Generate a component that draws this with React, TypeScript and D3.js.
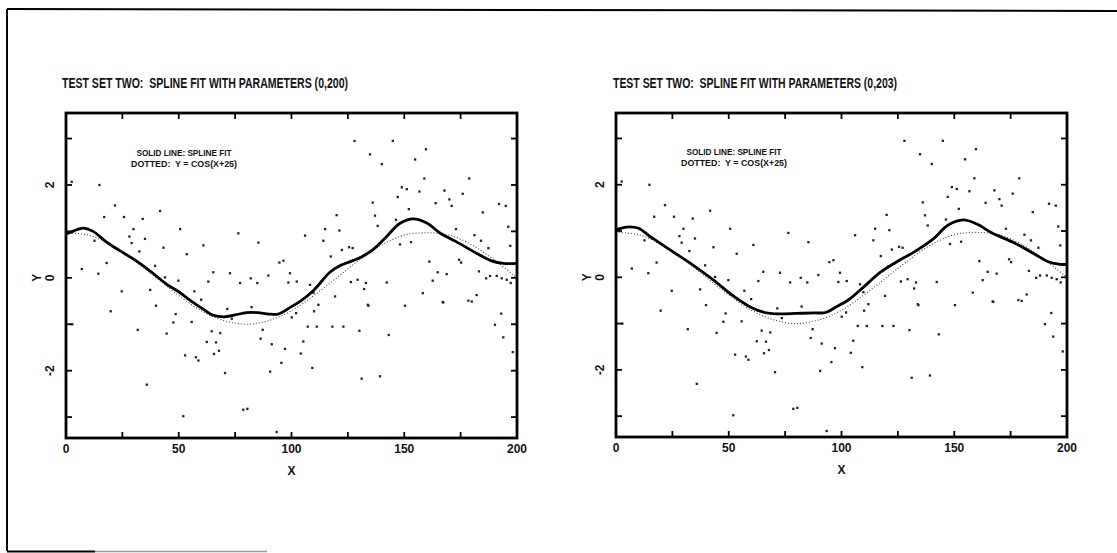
import React from "react";
import * as d3 from "d3";

const W = 1117;
const H = 553;

const titles = [
  "TEST SET TWO:  SPLINE FIT WITH PARAMETERS (0,200)",
  "TEST SET TWO:  SPLINE FIT WITH PARAMETERS (0,203)",
];
const legendLines = ["SOLID LINE: SPLINE FIT", "DOTTED:  Y = COS(X+25)"];
const xTickLabels = [0, 50, 100, 150, 200];
const xTicks = [0, 25, 50, 75, 100, 125, 150, 175, 200];
const yTickLabels = [-2, 0, 2];
const yTicks = [-3, -2, -1, 0, 1, 2, 3];

// true curve (dotted)
const trueCurve: [number, number][] = [
  [0, 0.97], [10, 0.92], [20, 0.71], [30, 0.38], [40, 0.0], [50, -0.38],
  [60, -0.71], [70, -0.92], [80, -1.0], [90, -0.92], [100, -0.71], [110, -0.38],
  [120, 0.0], [130, 0.38], [140, 0.71], [150, 0.92], [160, 0.97], [170, 0.92],
  [180, 0.71], [190, 0.38], [200, 0.0],
];

const splineA: [number, number][] = [
  [0, 0.95], [2, 0.98], [5, 1.04], [8, 1.07], [12, 1.0], [18, 0.77], [24, 0.58],
  [31, 0.37], [38, 0.12], [45, -0.15], [50, -0.3], [56, -0.52], [61, -0.68],
  [65, -0.8], [70, -0.84], [75, -0.8], [80, -0.75], [85, -0.75], [90, -0.78],
  [94, -0.78], [100, -0.62], [104, -0.5], [110, -0.26], [117, 0.12], [121, 0.25],
  [125, 0.33], [131, 0.45], [136, 0.6], [142, 0.88], [148, 1.17], [154, 1.27],
  [160, 1.18], [166, 0.96], [173, 0.78], [182, 0.53], [189, 0.36], [194, 0.31],
  [200, 0.31],
];

const splineB: [number, number][] = [
  [0, 1.03], [3, 1.07], [6, 1.09], [10, 1.06], [16, 0.85], [25, 0.56], [34, 0.27],
  [43, -0.05], [52, -0.4], [60, -0.65], [66, -0.76], [72, -0.79], [80, -0.78],
  [88, -0.77], [93, -0.76], [98, -0.63], [103, -0.49], [110, -0.2], [117, 0.1],
  [124, 0.32], [133, 0.57], [141, 0.84], [147, 1.12], [154, 1.24], [160, 1.15],
  [167, 0.95], [176, 0.76], [185, 0.52], [192, 0.33], [197, 0.28], [200, 0.28],
];

const points: [number, number][] = [
  [2.5, 2.07], [14.8, 2.0], [21.7, 1.56], [16.9, 1.31], [25.7, 1.31], [34, 1.27],
  [41.7, 1.44], [50.6, 1.05], [29.9, 1.05], [28.1, 0.89], [35, 0.84], [29.1, 0.75],
  [12.6, 0.8], [18, 0.32], [7, 0.19], [14.3, 0.09], [24.7, -0.29], [32.5, 0.57],
  [39.5, 0.26], [43.2, 0.65], [37.3, -0.26], [39.9, -0.6], [43.9, 0.01], [49.8, -0.06],
  [53.5, 0.51], [60.9, 0.7], [56.9, -0.29], [59.9, -0.47], [63.1, -0.08], [65.3, 0.12],
  [72.7, 0.1], [77.2, -0.11], [81.9, -0.01], [84.8, -0.11], [89.7, 0.05], [76.4, 0.96],
  [85.3, 0.76], [94.6, 0.33], [96.4, 0.37], [99.3, 0.1], [98.6, -0.1], [102.3, -0.08],
  [106, 0.91], [114.1, 0.8], [114.9, 1.05], [120, 1.35], [117.4, 0.46], [120.8, 0.24],
  [111.9, -0.58], [109.7, -0.32], [108.2, -0.15],
  [2.8, -1.0], [19.8, -0.72], [31.8, -1.12], [44.6, -1.2], [47.6, -0.96], [48.6, -0.78],
  [55.7, -0.95], [52.8, -1.67], [57.6, -1.71], [58.7, -1.78], [62.4, -1.38], [64.6, -1.15],
  [66.5, -1.39], [65.6, -1.64], [67.8, -1.57], [68.4, -1.19], [70.5, -2.05], [71.5, -0.67],
  [73.5, -0.88], [82.3, -0.63], [86.3, -1.31], [87.2, -1.12], [91.2, -1.43], [90.5, -2.02],
  [95.5, -1.83], [97.1, -1.53], [100.1, -0.85], [102, -0.76], [104.1, -1.63], [105.2, -1.37],
  [107.2, -1.05], [109.2, -1.94], [110, -0.72], [111.2, -1.05], [118.1, -1.05], [35.8, -2.3],
  [52, -2.98], [78.6, -2.84], [80.4, -2.82], [93.4, -3.32],
  [123, -1.05], [130.1, -1.14], [143.1, -1.23], [139.2, -2.12], [131.1, -2.17], [134.1, -0.6],
  [150.3, -0.6], [167.3, -0.53], [178.4, -0.49], [179.9, -0.51], [193, -0.77], [190.2, -1.01],
  [193.9, -1.28], [198.1, -1.6],
  [127.9, 2.95], [144.9, 2.95], [159.6, 2.77], [134.8, 2.66], [154.8, 2.55], [140, 2.45],
  [158.9, 2.14], [178.8, 2.14], [148.9, 1.95], [151.1, 1.91], [156.7, 1.86], [147.1, 1.74],
  [167.8, 1.88], [175.9, 1.81], [170, 1.69], [171, 1.55], [163.9, 1.61], [136, 1.62],
  [152, 1.48], [137, 1.34], [184.8, 1.41], [192, 1.59], [195, 1.55], [138.2, 1.12],
  [146.3, 1.25], [121.2, 1.02], [172.9, 1.05], [196.1, 1.1], [181.1, 0.92], [184, 0.8],
  [197, 0.69], [187.3, 0.64], [148.1, 0.72], [153, 0.77], [122.3, 0.6], [125.5, 0.66],
  [127.1, 0.64], [174.3, 0.39], [175.2, 0.33], [161.1, 0.35], [164.8, 0.12], [168.8, 0.08],
  [162.6, -0.06], [183.1, 0.14], [186.3, -0.01], [188, 0.04], [191, 0.04], [193.2, -0.01],
  [195.4, -0.04], [197.2, -0.11], [126.3, -0.09], [129.3, -0.04], [133, -0.11], [132.2, -0.24],
  [142.2, -0.1], [119.3, -0.4], [133.8, -0.58], [158.2, -0.33], [167, -0.52], [182.1, -0.37],
];

const FONT = "'Liberation Sans', Arial, sans-serif";

type PanelProps = {
  left: number;
  right: number;
  top: number;
  bottom: number;
  title: string;
  titleX: number;
  titleW: number;
  legendX: number;
  legendY: number;
  spline: [number, number][];
};

function Panel(p: PanelProps) {
  const x = d3.scaleLinear().domain([0, 200]).range([p.left, p.right]);
  const y = d3.scaleLinear().domain([-3.45, 3.55]).range([p.bottom, p.top]);
  const line = d3
    .line<[number, number]>()
    .x((d) => x(d[0]))
    .y((d) => y(d[1]))
    .curve(d3.curveCatmullRom.alpha(0.5));
  const tl = 6;
  return (
    <g>
      <text
        x={p.titleX}
        y={88}
        fontFamily={FONT}
        fontWeight="bold"
        fontSize={14}
        textLength={p.titleW}
        lengthAdjust="spacingAndGlyphs"
        fill="#111"
        style={{ whiteSpace: "pre" }}
      >
        {p.title}
      </text>
      {/* points */}
      {points.map((d, i) => (
        <rect
          key={i}
          x={x(d[0]) - 1.1}
          y={y(d[1]) - 1.1}
          width={2.3}
          height={2.3}
          fill="#222"
        />
      ))}
      {/* dotted true curve */}
      <path
        d={line(trueCurve) || ""}
        fill="none"
        stroke="#444"
        strokeWidth={1.1}
        strokeDasharray="1,2"
      />
      {/* spline fit */}
      <path d={line(p.spline) || ""} fill="none" stroke="#000" strokeWidth={2.8} />
      {/* frame */}
      <rect
        x={p.left}
        y={p.top}
        width={p.right - p.left}
        height={p.bottom - p.top}
        fill="none"
        stroke="#000"
        strokeWidth={2.8}
      />
      {xTicks.map((t) => (
        <g key={"xt" + t}>
          <line x1={x(t)} x2={x(t)} y1={p.bottom} y2={p.bottom - tl} stroke="#000" strokeWidth={1.8} />
          <line x1={x(t)} x2={x(t)} y1={p.top} y2={p.top + tl} stroke="#000" strokeWidth={1.8} />
        </g>
      ))}
      {yTicks.map((t) => (
        <g key={"yt" + t}>
          <line x1={p.left} x2={p.left + tl} y1={y(t)} y2={y(t)} stroke="#000" strokeWidth={1.8} />
          <line x1={p.right} x2={p.right - tl} y1={y(t)} y2={y(t)} stroke="#000" strokeWidth={1.8} />
        </g>
      ))}
      {xTickLabels.map((t) => (
        <text
          key={"xl" + t}
          x={x(t)}
          y={p.bottom + 15}
          textAnchor="middle"
          fontFamily={FONT}
          fontWeight="bold"
          fontSize={12}
          fill="#111"
        >
          {t}
        </text>
      ))}
      {yTickLabels.map((t) => (
        <text
          key={"yl" + t}
          transform={`translate(${p.left - 12},${y(t)}) rotate(-90)`}
          textAnchor="middle"
          fontFamily={FONT}
          fontWeight="bold"
          fontSize={12}
          fill="#111"
        >
          {t}
        </text>
      ))}
      <text
        x={(p.left + p.right) / 2}
        y={p.bottom + 37}
        textAnchor="middle"
        fontFamily={FONT}
        fontWeight="bold"
        fontSize={12}
        fill="#111"
      >
        X
      </text>
      <text
        transform={`translate(${p.left - 25},${y(0)}) rotate(-90)`}
        textAnchor="middle"
        fontFamily={FONT}
        fontWeight="bold"
        fontSize={12}
        fill="#111"
      >
        Y
      </text>
      {/* legend */}
      <text
        x={p.legendX}
        y={p.legendY}
        textAnchor="middle"
        fontFamily={FONT}
        fontWeight="bold"
        fontSize={8.5}
        textLength={95}
        lengthAdjust="spacingAndGlyphs"
        fill="#111"
      >
        {legendLines[0]}
      </text>
      <text
        x={p.legendX - 53}
        y={p.legendY + 11}
        fontFamily={FONT}
        fontWeight="bold"
        fontSize={8.5}
        textLength={106}
        lengthAdjust="spacingAndGlyphs"
        fill="#111"
        style={{ whiteSpace: "pre" }}
      >
        {legendLines[1]}
      </text>
    </g>
  );
}

export default function App() {
  return (
    <svg
      width={W}
      height={H}
      style={{ position: "absolute", left: 0, top: 0, background: "#fff" }}
    >
      <rect x={0} y={0} width={W} height={H} fill="#fff" />
      {/* outer frame */}
      <line x1={7} y1={9} x2={W} y2={11} stroke="#000" strokeWidth={2} />
      <line x1={7} y1={9} x2={7} y2={551} stroke="#000" strokeWidth={2} />
      <line x1={7} y1={551.5} x2={95} y2={551.5} stroke="#000" strokeWidth={2} />
      <line x1={95} y1={551.5} x2={267} y2={551.5} stroke="#999" strokeWidth={1.5} />
      <Panel
        left={66}
        right={517}
        top={113}
        bottom={438}
        title={titles[0]}
        titleX={62}
        titleW={286}
        legendX={184}
        legendY={156}
        spline={splineA}
      />
      <Panel
        left={616}
        right={1067}
        top={113}
        bottom={437}
        title={titles[1]}
        titleX={613}
        titleW={284}
        legendX={734}
        legendY={155}
        spline={splineB}
      />
    </svg>
  );
}
